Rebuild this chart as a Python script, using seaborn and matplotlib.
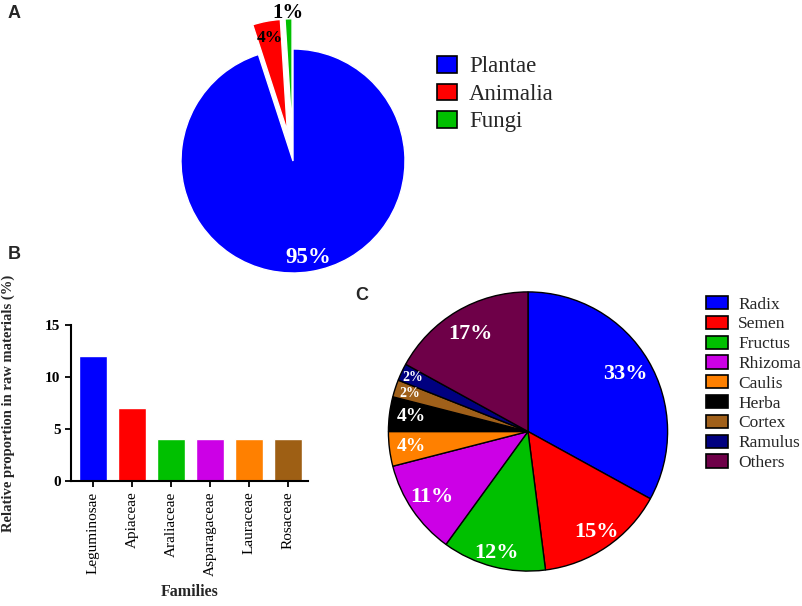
import seaborn as sns
import matplotlib.pyplot as plt
from matplotlib.patches import Patch
import numpy as np
import pandas as pd

sns.set_style("white")
plt.rcParams["font.family"] = ["Liberation Serif", "DejaVu Serif"]

# Panel A: reinos de origen
kingdoms = ["Plantae", "Animalia", "Fungi"]
kingdom_pct = [95, 4, 1]
kingdom_colors = ["#0000FF", "#FF0000", "#00C000"]

# Panel B: familias
families = ["Leguminosae", "Apiaceae", "Araliaceae", "Asparagaceae", "Lauraceae", "Rosaceae"]
family_pct = [12, 7, 4, 4, 4, 4]
family_colors = ["#0000FF", "#FF0000", "#00C000", "#CC00E6", "#FF8000", "#9E5F14"]

# Panel C: partes usadas
parts = ["Radix", "Semen", "Fructus", "Rhizoma", "Caulis", "Herba", "Cortex", "Ramulus", "Others"]
part_pct = [33, 15, 12, 11, 4, 4, 2, 2, 17]
part_colors = ["#0000FF", "#FF0000", "#00C000", "#CC00E6", "#FF8000", "#000000",
               "#A0601A", "#000080", "#6E0048"]

W, H = 803, 606
fig = plt.figure(figsize=(W / 100, H / 100), dpi=100)


def px_axes(cx, cy, half):
    return fig.add_axes([(cx - half) / W, (H - cy - half) / H, 2 * half / W, 2 * half / H])


def label_wedges(ax, wedges, values, dists, colors, sizes):
    for w, v, d, c, s in zip(wedges, values, dists, colors, sizes):
        ang = np.deg2rad((w.theta1 + w.theta2) / 2)
        x = w.center[0] + d * w.r * np.cos(ang)
        y = w.center[1] + d * w.r * np.sin(ang)
        ax.text(x, y, f"{v}%", ha="center", va="center", color=c,
                fontsize=s, fontweight="bold")


# ---- A ----
ax_a = px_axes(293, 161, 168)
wedges_a, _ = ax_a.pie(kingdom_pct, colors=kingdom_colors, startangle=90,
                       counterclock=False, explode=[0, 0.27, 0.27], radius=1)
ax_a.set_xlim(-1.5, 1.5)
ax_a.set_ylim(-1.5, 1.5)
ax_a.set_aspect("equal")
ax_a.axis("off")
label_wedges(ax_a, wedges_a, kingdom_pct, [0.87, 0.85, 1.05],
             ["white", "black", "black"], [16.5, 12.5, 15])
ax_a.legend(handles=[Patch(facecolor=c, edgecolor="black", linewidth=1.2) for c in kingdom_colors],
            labels=kingdoms, loc="upper left", bbox_to_anchor=(437 / W, 1 - 56 / H),
            bbox_transform=fig.transFigure, frameon=False, fontsize=16.5,
            handlelength=0.87, handleheight=0.74, handletextpad=0.52,
            labelspacing=0.27, borderpad=0, borderaxespad=0)

# ---- B ----
ax_b = fig.add_axes([71 / W, (H - 481) / H, 237 / W, 156 / H])
df = pd.DataFrame({"family": families, "pct": family_pct})
sns.barplot(data=df, x="family", y="pct", hue="family", palette=family_colors,
            legend=False, width=0.72, saturation=1, ax=ax_b)
ax_b.set_ylim(0, 15)
ax_b.set_xlim(-0.56, 5.51)
ax_b.set_yticks([0, 5, 10, 15])
sns.despine(ax=ax_b)
for sp in ["left", "bottom"]:
    ax_b.spines[sp].set_linewidth(1.5)
    ax_b.spines[sp].set_color("black")
ax_b.tick_params(direction="out", length=4, width=1.3, colors="black", left=True, bottom=True)
ax_b.tick_params(axis="x", labelrotation=90, labelsize=11)
ax_b.tick_params(axis="y", labelsize=11)
for t in ax_b.get_yticklabels():
    t.set_fontweight("bold")
ax_b.set_ylabel("Relative proportion in raw materials (%)", fontsize=10.5, fontweight="bold")
ax_b.set_xlabel("Families", fontsize=11.5, fontweight="bold")
ax_b.yaxis.set_label_coords((15 - 71) / 237, 0.5)
ax_b.xaxis.set_label_coords(0.5, (481 - 584) / 156)

# ---- C ----
ax_c = px_axes(528, 431.5, 167.5)
wedges_c, _ = ax_c.pie(part_pct, colors=part_colors, startangle=90, counterclock=False,
                       radius=1, wedgeprops=dict(edgecolor="black", linewidth=1))
ax_c.set_xlim(-1.2, 1.2)
ax_c.set_ylim(-1.2, 1.2)
ax_c.set_aspect("equal")
ax_c.axis("off")
label_wedges(ax_c, wedges_c, part_pct,
             [0.81, 0.87, 0.9, 0.83, 0.84, 0.84, 0.89, 0.91, 0.81],
             ["white"] * 9, [16, 16, 16, 16, 14, 14, 10, 10, 16])
ax_c.legend(handles=[Patch(facecolor=c, edgecolor="black", linewidth=1.2) for c in part_colors],
            labels=parts, loc="upper left", bbox_to_anchor=(706 / W, 1 - 296 / H),
            bbox_transform=fig.transFigure, frameon=False, fontsize=12.5,
            handlelength=1.26, handleheight=0.8, handletextpad=0.6,
            labelspacing=0.18, borderpad=0, borderaxespad=0)

# letras de panel
for letter, (x, y) in {"A": (14, 14), "B": (14, 255), "C": (362, 296)}.items():
    fig.text(x / W, 1 - y / H, letter, ha="center", va="center", fontsize=13,
             fontweight="bold", family="Liberation Sans")

fig.savefig("out.png", dpi=100)
